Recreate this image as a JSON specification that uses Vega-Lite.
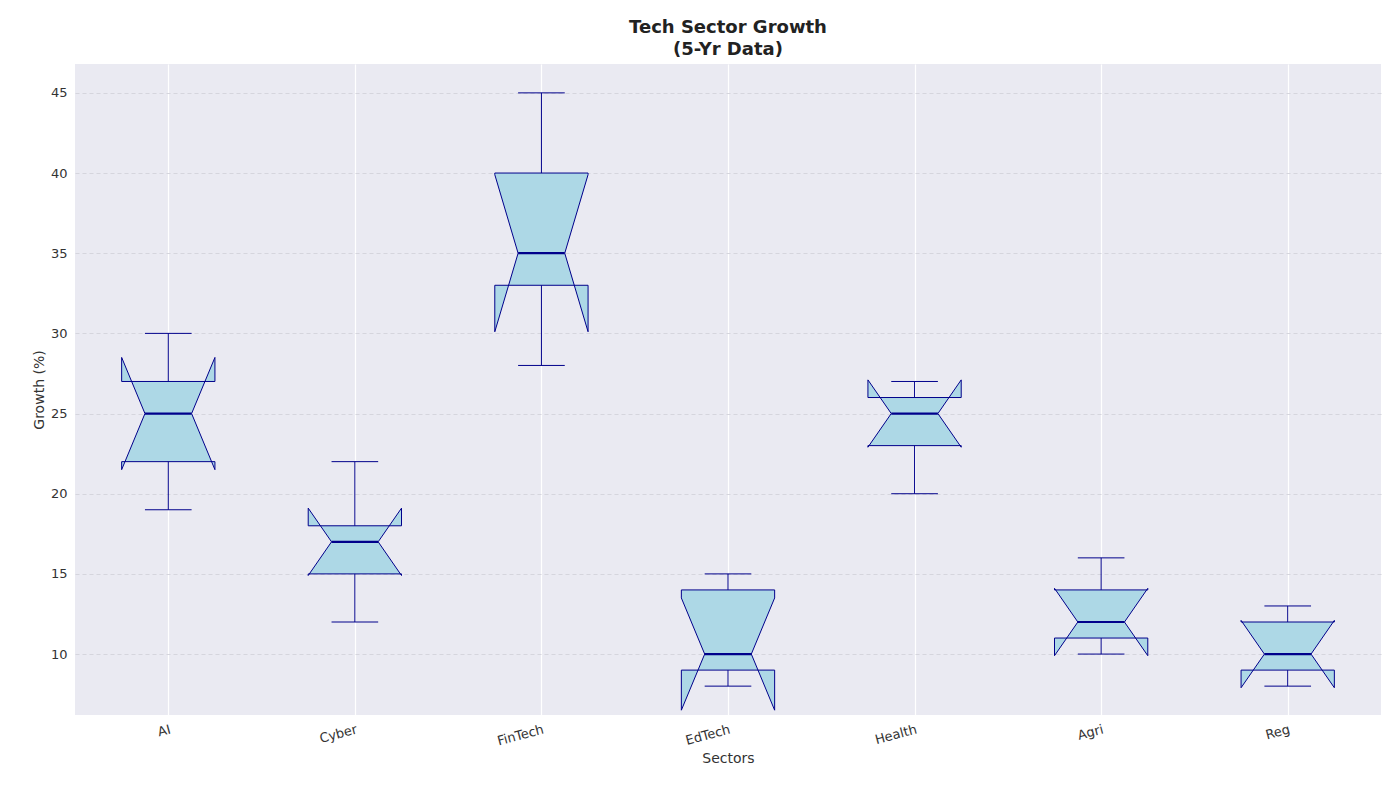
{
"$schema":"https://vega.github.io/schema/vega-lite/v6.json",
"width":1306,"height":651,"autosize":"none",
"padding":{"left":75,"top":64,"right":19,"bottom":85},
"background":"white",
"config":{"font":"DejaVu Sans","view":{"fill":"#eaeaf2","stroke":null}},
"title":{"text":["Tech Sector Growth","(5-Yr Data)"],"fontSize":18,"fontWeight":"bold","color":"#222222","offset":5,"lineHeight":22},
"datasets":{
"stats":[
{"sector":"AI","idx":1,"wlo":19,"q1":22,"med":25,"q3":27,"whi":30,"nlo":21.5,"nhi":28.5},
{"sector":"Cyber","idx":2,"wlo":12,"q1":15,"med":17,"q3":18,"whi":22,"nlo":14.9,"nhi":19.1},
{"sector":"FinTech","idx":3,"wlo":28,"q1":33,"med":35,"q3":40,"whi":45,"nlo":30.1,"nhi":39.9},
{"sector":"EdTech","idx":4,"wlo":8,"q1":9,"med":10,"q3":14,"whi":15,"nlo":6.5,"nhi":13.5},
{"sector":"Health","idx":5,"wlo":20,"q1":23,"med":25,"q3":26,"whi":27,"nlo":22.9,"nhi":27.1},
{"sector":"Agri","idx":6,"wlo":10,"q1":11,"med":12,"q3":14,"whi":16,"nlo":9.9,"nhi":14.1},
{"sector":"Reg","idx":7,"wlo":8,"q1":9,"med":10,"q3":12,"whi":13,"nlo":7.9,"nhi":12.1}
],
"shape":[
{"stat":"q1","dxL":-0.25,"dxR":0.25,"oL":0,"oR":9},
{"stat":"nlo","dxL":-0.25,"dxR":0.25,"oL":1,"oR":8},
{"stat":"med","dxL":-0.125,"dxR":0.125,"oL":2,"oR":7},
{"stat":"nhi","dxL":-0.25,"dxR":0.25,"oL":3,"oR":6},
{"stat":"q3","dxL":-0.25,"dxR":0.25,"oL":4,"oR":5}
]},
"data":{"name":"stats"},
"layer":[
{"transform":[
 {"fold":["q1","nlo","med","nhi","q3"],"as":["stat","val"]},
 {"lookup":"stat","from":{"data":{"name":"shape"},"key":"stat","fields":["dxL","dxR","oL","oR"]}},
 {"fold":["dxL","dxR"],"as":["side","dx"]},
 {"calculate":"datum.idx + datum.dx","as":"px"},
 {"calculate":"datum.side=='dxL' ? datum.oL : datum.oR","as":"ord"}],
 "mark":{"type":"line","interpolate":"linear-closed","fill":"#add8e6","stroke":"#00008b","strokeWidth":1},
 "encoding":{
  "x":{"field":"px","type":"quantitative","scale":{"domain":[0.5,7.5],"nice":false,"zero":false},
   "axis":{"values":[1,2,3,4,5,6,7],"labelExpr":"['AI','Cyber','FinTech','EdTech','Health','Agri','Reg'][datum.value-1]","labelAngle":-15,"labelFontSize":13,"labelColor":"#333333","title":"Sectors","titleFontSize":14,"titleFontWeight":"normal","titleColor":"#333333","grid":true,"gridColor":"white","gridWidth":1.2,"domain":false,"ticks":false,"labelPadding":8}},
  "y":{"field":"val","type":"quantitative","scale":{"domain":[6.2,46.8],"nice":false,"zero":false},
   "axis":{"values":[10,15,20,25,30,35,40,45],"labelFontSize":13,"labelColor":"#333333","title":"Growth (%)","titleFontSize":14,"titleFontWeight":"normal","titleColor":"#333333","grid":true,"gridColor":"#d5d5dd","gridDash":[4,3],"domain":false,"ticks":false,"labelPadding":8}},
  "detail":{"field":"sector"},
  "order":{"field":"ord","type":"quantitative"}}},
{"mark":{"type":"rule","color":"#00008b","strokeWidth":1},
 "encoding":{"x":{"field":"idx","type":"quantitative"},"y":{"field":"q3","type":"quantitative"},"y2":{"field":"whi"}}},
{"mark":{"type":"rule","color":"#00008b","strokeWidth":1},
 "encoding":{"x":{"field":"idx","type":"quantitative"},"y":{"field":"wlo","type":"quantitative"},"y2":{"field":"q1"}}},
{"transform":[{"calculate":"datum.idx-0.125","as":"xl"},{"calculate":"datum.idx+0.125","as":"xr"}],
 "layer":[
  {"mark":{"type":"rule","color":"#00008b","strokeWidth":1},
   "encoding":{"x":{"field":"xl","type":"quantitative"},"x2":{"field":"xr"},"y":{"field":"whi","type":"quantitative"}}},
  {"mark":{"type":"rule","color":"#00008b","strokeWidth":1},
   "encoding":{"x":{"field":"xl","type":"quantitative"},"x2":{"field":"xr"},"y":{"field":"wlo","type":"quantitative"}}},
  {"mark":{"type":"rule","color":"#00008b","strokeWidth":2.2},
   "encoding":{"x":{"field":"xl","type":"quantitative"},"x2":{"field":"xr"},"y":{"field":"med","type":"quantitative"}}}
 ]}
]
}
